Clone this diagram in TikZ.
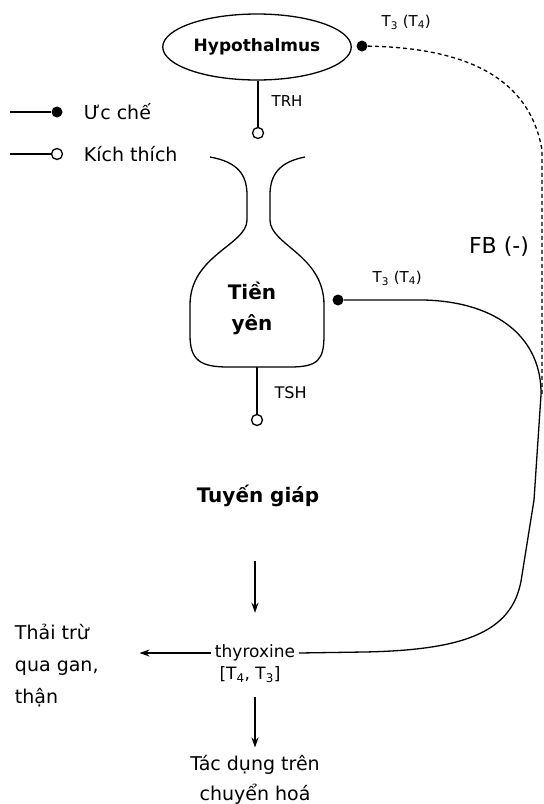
\documentclass[tikz,border=0pt]{standalone}
\usepackage{fontspec}
\setmainfont{DejaVu Sans}
\usetikzlibrary{arrows.meta,positioning,shapes.geometric}

\begin{document}
\begin{tikzpicture}[
  x=1pt, y=-1pt,
  line width=1.3pt,
  font=\fontsize{19}{22}\selectfont,
  organ/.style={font=\fontsize{20}{31}\selectfont\bfseries, align=center},
  lbl/.style={font=\fontsize{15}{17}\selectfont, inner sep=1pt},
  inhib/.style={circle, fill=black, minimum size=11pt, inner sep=0pt},
  stim/.style={circle, draw, line width=1.3pt, fill=white, minimum size=11pt, inner sep=0pt},
  arr/.style={-{Stealth[length=10pt,width=7pt]}, line width=1.1pt},
  fb/.style={dashed, dash pattern=on 4pt off 3pt}
]
\useasboundingbox (0,0) rectangle (544,804);

% hypothalamus
\node[draw, ellipse, minimum width=180pt, minimum height=66pt, font=\fontsize{17}{19}\selectfont\bfseries] (hypo) at (257,47) {Hypothalmus};
\node[inhib] (dot1) at (362,46) {};
\node[lbl, anchor=west] (t3top) at (380,22) {T\textsubscript{3} (T\textsubscript{4})};
\node[stim] (trhend) at (258,133) {};
\draw (hypo.south -| trhend) -- (trhend);
\node[lbl, anchor=west] (trh) at (270,101) {TRH};

% legend
\coordinate (leg1) at (10,112);
\node[inhib] (leg1dot) at (57,112) {};
\draw (leg1) -- (leg1dot);
\node[anchor=west] (leg1txt) at (80,112) {Ưc chế};
\coordinate (leg2) at (10,154);
\node[stim] (leg2dot) at (57,154) {};
\draw (leg2) -- (leg2dot);
\node[anchor=west] (leg2txt) at (80,154) {Kích thích};

% pituitary
\draw (210,157) .. controls (238,162) and (247,175) .. (247,195) -- (247,220)
  .. controls (247,245) and (190,255) .. (190,305) -- (190,335)
  .. controls (190,360) and (200,367) .. (228,367) -- (290,367)
  .. controls (318,367) and (324,360) .. (324,335) -- (324,305)
  .. controls (324,255) and (270,245) .. (270,220) -- (270,195)
  .. controls (270,175) and (279,162) .. (305,157);
\coordinate (pitbot) at (257,367);
\node[organ] (tienyen) at (252,308) {Tiền\\yên};
\node[inhib] (dot2) at (338,300) {};
\node[lbl, anchor=west] (t3mid) at (371,278) {T\textsubscript{3} (T\textsubscript{4})};
\node[font=\fontsize{22}{24}\selectfont] (fbneg) at (499,247) {FB (-)};
\node[stim] (tshend) at (257,420) {};
\draw (pitbot) -- (tshend);
\node[lbl, anchor=west, font=\fontsize{16}{18}\selectfont] (tsh) at (273,393) {TSH};

% thyroid and hormone
\node[organ] (giap) at (258,496) {Tuyến giáp};
\node[font=\fontsize{17}{19}\selectfont] (thy) at (255,653) {thyroxine};
\node[font=\fontsize{17}{19}\selectfont] (thyb) at (250,675) {[T\textsubscript{4}, T\textsubscript{3}]};
\node[anchor=west, align=left, font=\fontsize{19}{32}\selectfont] (exc) at (11,666) {Thải trừ\\qua gan,\\thận};
\node[align=center, font=\fontsize{19}{30}\selectfont] (effect) at (255,780) {Tác dụng trên\\chuyển hoá};

\draw[arr, shorten <=50pt, shorten >=28pt] (giap.south -| thy.north) -- (thy.north);
\draw[arr, shorten >=37pt] (thy.west) -- (thy.west -| exc.east);
\draw[arr, shorten <=10pt, shorten >=4pt] (thyb.south -| effect.north) -- (effect.north);

% feedback loops
\draw (thy.east) -- (364,652) .. controls (470,650) and (515,630) .. (522,575)
  -- (534,500) -- (541,395) .. controls (542,340) and (500,302) .. (424,300) -- (dot2);
\draw[fb] (dot1) .. controls (470,48) and (530,80) .. (542,150) -- (542,395);
\end{tikzpicture}
\end{document}
